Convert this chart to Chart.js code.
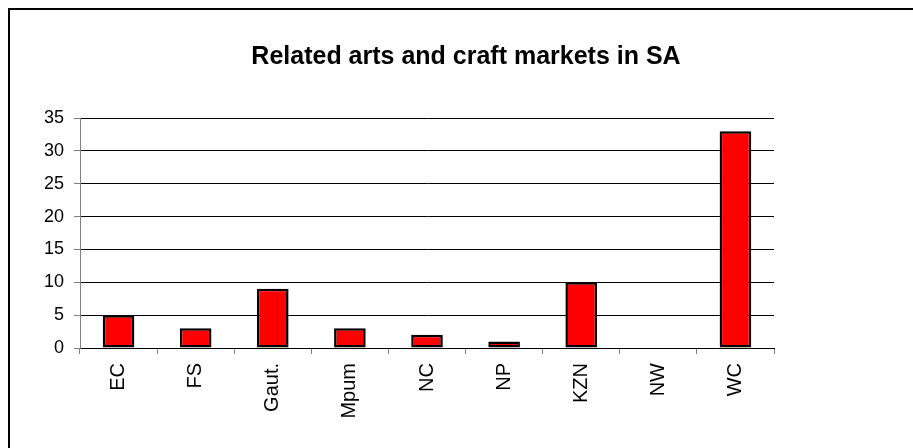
<!DOCTYPE html>
<html lang="en">
<head>
  <meta charset="UTF-8" />
  <title>Related arts and craft markets in SA</title>
  <script src="https://cdn.jsdelivr.net/npm/chart.js"></script>
  <style>
    body {
      margin: 0;
      padding: 0;
      background: #fff;
      overflow: hidden;
      width: 913px;
      height: 448px;
    }
    .frame {
      position: absolute;
      left: 8px;
      top: 8px;
      width: 940px;
      height: 460px;
      border: 2px solid #000;
    }
    #chartBox {
      position: absolute;
      left: 0;
      top: 0;
      width: 912px;
      height: 438px;
    }
  </style>
</head>
<body>
  <div class="frame">
    <div id="chartBox">
      <canvas id="marketChart"></canvas>
    </div>
  </div>

  <script>
    const regions = ['EC', 'FS', 'Gaut.', 'Mpum', 'NC', 'NP', 'KZN', 'NW', 'WC'];
    const marketCounts = [5, 3, 9, 3, 2, 1, 10, 0, 33];
    const yTicks = [0, 5, 10, 15, 20, 25, 30, 35];

    const font = 'Arial, "Liberation Sans", sans-serif';

    const ctx = document.getElementById('marketChart').getContext('2d');
    new Chart(ctx, {
      type: 'bar',
      data: {
        labels: regions,
        datasets: [{
          label: 'Markets',
          data: marketCounts,
          backgroundColor: '#ff0000',
          borderColor: '#000',
          borderWidth: 2.5,
          borderSkipped: false,
          barPercentage: 0.41,
          categoryPercentage: 1
        }]
      },
      options: {
        responsive: true,
        maintainAspectRatio: false,
        animation: false,
        layout: { padding: 0 },
        plugins: {
          legend: { display: false },
          tooltip: { enabled: false },
          title: {
            display: true,
            text: 'Related arts and craft markets in SA',
            color: '#000',
            font: { family: font, size: 25, weight: 'bold' },
            padding: { top: 32, bottom: 46 }
          }
        },
        scales: {
          x: {
            grid: {
              offset: true,
              drawOnChartArea: false,
              drawTicks: true,
              tickLength: 6,
              color: '#808080'
            },
            border: { color: '#000', width: 1 },
            ticks: {
              color: '#000',
              font: { family: font, size: 20 },
              minRotation: 90,
              maxRotation: 90,
              padding: 9
            },
            afterFit: scale => { scale.height = 100; }
          },
          y: {
            min: 0,
            max: 35,
            afterBuildTicks: scale => {
              scale.ticks = yTicks.map(v => ({ value: v }));
            },
            grid: {
              color: '#000',
              drawTicks: true,
              tickLength: 6,
              tickColor: '#808080'
            },
            border: { color: '#808080', width: 1 },
            ticks: {
              color: '#000',
              font: { family: font, size: 18 },
              padding: 10
            },
            afterFit: scale => { scale.width = 70; }
          },
          // empty strip on the right so the plot stops short of the frame
          spacer: {
            type: 'linear',
            position: 'right',
            grid: { display: false },
            border: { display: false },
            ticks: { display: false },
            afterFit: scale => { scale.width = 148; }
          }
        }
      }
    });
  </script>
</body>
</html>
